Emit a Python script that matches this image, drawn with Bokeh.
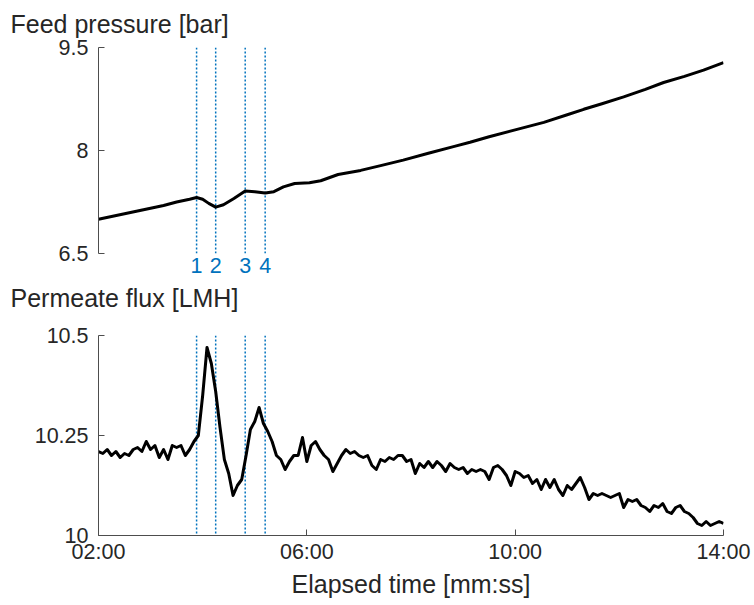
from bokeh.plotting import figure
from bokeh.layouts import column
from bokeh.models import FixedTicker, Span, Range1d, Title
from bokeh.embed import file_html
from bokeh.resources import INLINE

# ---- data (time in seconds) ----
pressure_t = [120, 135, 150, 165, 180, 195, 210, 225, 233, 240, 247, 255, 264, 276, 289, 300,
              312, 322, 333, 346, 363, 376, 396, 422, 445, 471, 500, 530, 548, 570, 600, 633,
              660, 679, 700, 725, 750, 771, 795, 817, 840]
pressure = [7.00, 7.04, 7.08, 7.12, 7.16, 7.20, 7.25, 7.29, 7.315, 7.29, 7.23, 7.175, 7.21, 7.30, 7.41, 7.40,
            7.38, 7.40, 7.47, 7.52, 7.53, 7.56, 7.65, 7.71, 7.78, 7.86, 7.96, 8.06, 8.12, 8.20, 8.30, 8.41,
            8.52, 8.60, 8.68, 8.78, 8.89, 8.99, 9.08, 9.17, 9.28]

flux_t = list(range(120, 841, 5))
flux = [10.21, 10.205, 10.215, 10.20, 10.21, 10.195, 10.205, 10.20, 10.215, 10.22,
        10.21, 10.235, 10.215, 10.225, 10.195, 10.215, 10.19, 10.225, 10.22, 10.225,
        10.20, 10.215, 10.235, 10.25, 10.35, 10.47, 10.43, 10.36, 10.27, 10.19,
        10.155, 10.10, 10.125, 10.14, 10.20, 10.265, 10.285, 10.32, 10.28, 10.26,
        10.235, 10.20, 10.19, 10.165, 10.185, 10.20, 10.20, 10.245, 10.185, 10.225,
        10.235, 10.215, 10.20, 10.19, 10.16, 10.18, 10.20, 10.215, 10.205, 10.21,
        10.20, 10.195, 10.20, 10.175, 10.165, 10.19, 10.185, 10.195, 10.19, 10.20,
        10.20, 10.185, 10.19, 10.155, 10.18, 10.17, 10.185, 10.17, 10.185, 10.175,
        10.16, 10.18, 10.17, 10.165, 10.17, 10.155, 10.165, 10.16, 10.165, 10.16,
        10.14, 10.17, 10.175, 10.165, 10.15, 10.125, 10.16, 10.155, 10.145, 10.15,
        10.13, 10.14, 10.115, 10.14, 10.12, 10.14, 10.115, 10.10, 10.125, 10.115,
        10.13, 10.145, 10.12, 10.09, 10.105, 10.10, 10.105, 10.10, 10.095, 10.10,
        10.105, 10.07, 10.09, 10.085, 10.09, 10.075, 10.07, 10.06, 10.075, 10.07,
        10.08, 10.06, 10.055, 10.07, 10.075, 10.06, 10.055, 10.045, 10.03, 10.025,
        10.035, 10.025, 10.03, 10.035, 10.03]

event_t = [233, 255, 289, 312]
event_labels = ["1", "2", "3", "4"]

time_ticks = [120, 360, 600, 840]
time_labels = ["02:00", "06:00", "10:00", "14:00"]

pressure_ticks = [6.5, 8, 9.5]
pressure_labels = ["6.5", "8", "9.5"]
flux_ticks = [10, 10.25, 10.5]
flux_labels = ["10", "10.25", "10.5"]

FONT = "Liberation Sans"
TXT = "#262626"
AX = "#4d4d4d"
BLUE = "#0072BD"


def make_title(text, standoff, valign):
    return Title(text=text, align="left", offset=-88, standoff=standoff, vertical_align=valign,
                 text_font=FONT, text_font_size="25px", text_font_style="normal",
                 text_color=TXT)


def style(p):
    p.xgrid.visible = False
    p.ygrid.visible = False
    p.outline_line_color = None
    for ax in (p.xaxis[0], p.yaxis[0]):
        ax.major_tick_in = 6
        ax.major_tick_out = 0
        ax.minor_tick_line_color = None
        ax.axis_line_color = AX
        ax.major_tick_line_color = AX
        ax.major_label_text_font = FONT
        ax.major_label_text_font_size = "21.5px"
        ax.major_label_text_color = TXT
    p.yaxis[0].major_label_standoff = 10
    for t in event_t:
        p.add_layout(Span(location=t, dimension="height", line_color=BLUE,
                          line_dash="2 2", line_width=1.5, level="underlay"))


p1 = figure(frame_width=625, frame_height=206, x_range=Range1d(120, 840), y_range=Range1d(6.5, 9.5),
            output_backend="svg", toolbar_location=None,
            title=make_title("Feed pressure [bar]", 16, "top"),
            min_border_left=98, min_border_right=29, min_border_top=47, min_border_bottom=67)
style(p1)
p1.yaxis[0].ticker = FixedTicker(ticks=pressure_ticks)
p1.yaxis[0].major_label_overrides = dict(zip(pressure_ticks, pressure_labels))
p1.xaxis[0].ticker = FixedTicker(ticks=event_t)
p1.xaxis[0].major_label_overrides = dict(zip(event_t, event_labels))
p1.xaxis[0].axis_line_color = None
p1.xaxis[0].major_tick_line_color = None
p1.xaxis[0].major_label_text_color = BLUE
p1.xaxis[0].major_label_standoff = 4
p1.add_layout(make_title("Permeate flux [LMH]", 12, "bottom"), "below")
p1.line(pressure_t, pressure, line_color="black", line_width=3, line_join="round")

p2 = figure(frame_width=625, frame_height=200, x_range=p1.x_range, y_range=Range1d(10, 10.5),
            output_backend="svg", toolbar_location=None,
            min_border_left=98, min_border_right=29, min_border_top=15, min_border_bottom=68)
style(p2)
p2.yaxis[0].ticker = FixedTicker(ticks=flux_ticks)
p2.yaxis[0].major_label_overrides = dict(zip(flux_ticks, flux_labels))
p2.xaxis[0].ticker = FixedTicker(ticks=time_ticks)
p2.xaxis[0].major_label_overrides = dict(zip(time_ticks, time_labels))
p2.xaxis[0].major_label_standoff = 4
p2.xaxis[0].axis_label = "Elapsed time [mm:ss]"
p2.xaxis[0].axis_label_standoff = 3
p2.xaxis[0].axis_label_text_font = FONT
p2.xaxis[0].axis_label_text_font_size = "25px"
p2.xaxis[0].axis_label_text_font_style = "normal"
p2.xaxis[0].axis_label_text_color = TXT
p2.line(flux_t, flux, line_color="black", line_width=3, line_join="round")

layout = column(p1, p2)
open("out.html", "w").write(file_html(layout, INLINE))
